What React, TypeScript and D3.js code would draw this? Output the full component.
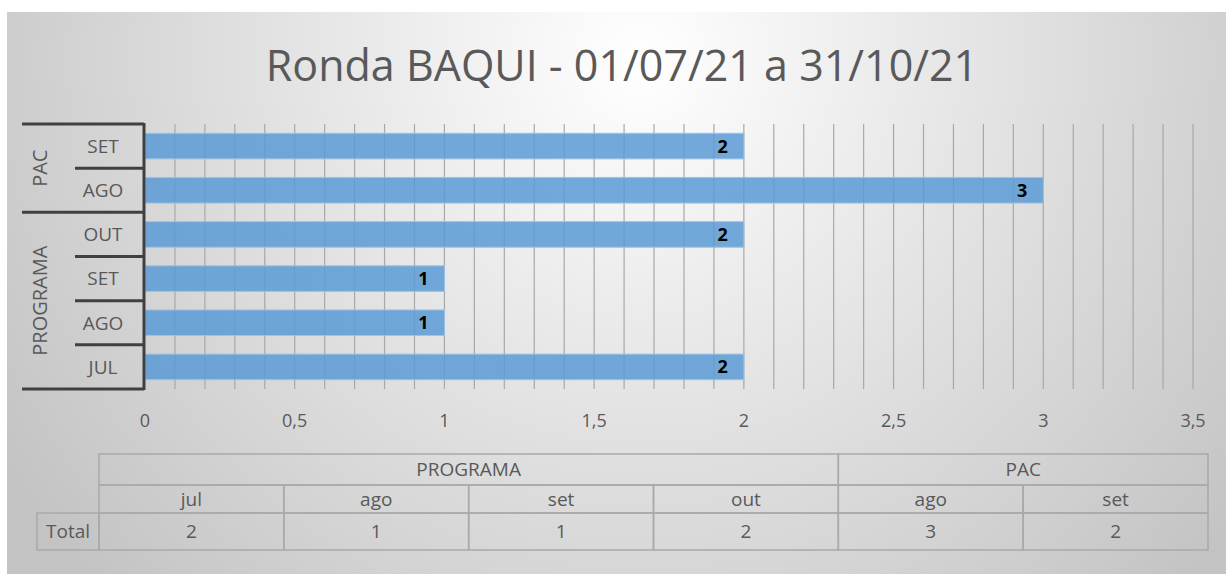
import * as d3 from "d3";

// chart data
const groups = ["PROGRAMA", "PROGRAMA", "PROGRAMA", "PROGRAMA", "PAC", "PAC"];
const months = ["jul", "ago", "set", "out", "ago", "set"];
const totals = [2, 1, 1, 2, 3, 2];
const xTicks = [0, 0.5, 1, 1.5, 2, 2.5, 3, 3.5];
const title = "Ronda BAQUI - 01/07/21 a 31/10/21";

const W = 1226;
const H = 574;
const FONT = "'Open Sans', 'Noto Sans', sans-serif";
const TEXT = "#595959";
const AXIS = "#404040";

export default function App() {
  const keys = totals.map((_, i) => `${groups[i]}-${months[i]}`);
  const order = [...keys].reverse(); // last category at top

  const x = d3.scaleLinear().domain([0, 3.5]).range([145, 1193]);
  const y = d3.scaleBand().domain(order).range([124, 389]).paddingInner(0.42).paddingOuter(0.21);
  const step = y.step();
  const bandTop = (k: string) => y(k)! - (step * y.paddingInner()) / 2;

  const grid = d3.range(1, 36).map((d) => d / 10);

  // group spans for the category bracket
  const groupNames = Array.from(new Set(groups));
  const groupSpan = groupNames.map((g) => {
    const ks = order.filter((k) => k.startsWith(g + "-"));
    const top = Math.min(...ks.map(bandTop));
    const bottom = Math.max(...ks.map((k) => bandTop(k) + step));
    return { g, top, bottom };
  });

  // data table
  const col = d3.scaleBand<number>().domain(d3.range(totals.length)).range([99, 1208]);
  const rows = [454, 485, 513, 550];
  const tableGroups = groupNames.map((g) => {
    const idx = groups.map((v, i) => (v === g ? i : -1)).filter((i) => i >= 0);
    return { g, x0: col(idx[0])!, x1: col(idx[idx.length - 1])! + col.bandwidth() };
  });
  const border = "#a9a9a9";

  return (
    <div style={{ position: "fixed", left: 0, top: 0 }}>
      <svg width={W} height={H} style={{ display: "block", background: "#fff" }}>
        <defs>
          <radialGradient id="bg" gradientUnits="userSpaceOnUse" cx={640} cy={60} r={760}>
            <stop offset="0" stopColor="#ffffff" />
            <stop offset="1" stopColor="#c3c3c3" />
          </radialGradient>
        </defs>
        <rect x={7} y={12} width={W - 7} height={H - 12} fill="url(#bg)" />

        <text x={622} y={81} textAnchor="middle" fontFamily={FONT} fontSize={43} fill={TEXT}>
          {title}
        </text>

        {/* gridlines */}
        {grid.map((d) => (
          <line key={d} x1={x(d)} x2={x(d)} y1={124} y2={389} stroke="#a8a8a8" strokeWidth={1.2} />
        ))}

        {/* bars */}
        {order.map((k) => {
          const i = keys.indexOf(k);
          return (
            <g key={k}>
              <rect
                x={x(0)}
                y={y(k)}
                width={x(totals[i]) - x(0)}
                height={y.bandwidth()}
                fill="#5b9bd5"
                fillOpacity={0.85}
                stroke="#9dc3e6"
                strokeWidth={1}
              />
              <text
                x={x(totals[i]) - 16}
                y={y(k)! + y.bandwidth() / 2}
                dy="0.36em"
                textAnchor="end"
                fontFamily={FONT}
                fontWeight="bold"
                fontSize={18}
                fill="#000"
              >
                {totals[i]}
              </text>
            </g>
          );
        })}

        {/* category axis bracket */}
        <line x1={144} x2={144} y1={123} y2={390} stroke={AXIS} strokeWidth={3} />
        {order.map((k) => {
          const t = bandTop(k);
          const isGroupEdge = groupSpan.some((s) => Math.abs(s.top - t) < 0.5);
          return (
            <line key={"t" + k} x1={isGroupEdge ? 22 : 75} x2={144} y1={t} y2={t} stroke={AXIS} strokeWidth={3} />
          );
        })}
        <line x1={22} x2={144} y1={389} y2={389} stroke={AXIS} strokeWidth={3} />
        {order.map((k) => {
          const i = keys.indexOf(k);
          return (
            <text
              key={"l" + k}
              x={103}
              y={y(k)! + y.bandwidth() / 2}
              dy="0.36em"
              textAnchor="middle"
              fontFamily={FONT}
              fontSize={19}
              fill={TEXT}
            >
              {months[i].toUpperCase()}
            </text>
          );
        })}
        {groupSpan.map((s) => (
          <text
            key={s.g}
            transform={`translate(40,${(s.top + s.bottom) / 2}) rotate(-90)`}
            dy="0.36em"
            textAnchor="middle"
            fontFamily={FONT}
            fontSize={20}
            fill={TEXT}
          >
            {s.g}
          </text>
        ))}

        {/* value axis labels */}
        {xTicks.map((t) => (
          <text key={t} x={x(t)} y={421} dy="0.36em" textAnchor="middle" fontFamily={FONT} fontSize={18} fill={TEXT}>
            {String(t).replace(".", ",")}
          </text>
        ))}

        {/* data table */}
        <g fill="none" stroke={border} strokeWidth={1.5}>
          {tableGroups.map((t) => (
            <rect key={t.g} x={t.x0} y={rows[0]} width={t.x1 - t.x0} height={rows[1] - rows[0]} />
          ))}
          {totals.map((_, i) => (
            <rect key={"m" + i} x={col(i)} y={rows[1]} width={col.bandwidth()} height={rows[2] - rows[1]} />
          ))}
          {totals.map((_, i) => (
            <rect key={"v" + i} x={col(i)} y={rows[2]} width={col.bandwidth()} height={rows[3] - rows[2]} />
          ))}
          <rect x={37} y={rows[2]} width={99 - 37} height={rows[3] - rows[2]} />
        </g>
        <g fontFamily={FONT} fontSize={19} fill={TEXT} textAnchor="middle">
          {tableGroups.map((t) => (
            <text key={t.g} x={(t.x0 + t.x1) / 2} y={(rows[0] + rows[1]) / 2} dy="0.36em">
              {t.g}
            </text>
          ))}
          {months.map((m, i) => (
            <text key={"m" + i} x={col(i)! + col.bandwidth() / 2} y={(rows[1] + rows[2]) / 2} dy="0.36em">
              {m}
            </text>
          ))}
          {totals.map((v, i) => (
            <text key={"v" + i} x={col(i)! + col.bandwidth() / 2} y={(rows[2] + rows[3]) / 2} dy="0.36em">
              {v}
            </text>
          ))}
          <text x={68} y={(rows[2] + rows[3]) / 2} dy="0.36em">
            Total
          </text>
        </g>
      </svg>
    </div>
  );
}
